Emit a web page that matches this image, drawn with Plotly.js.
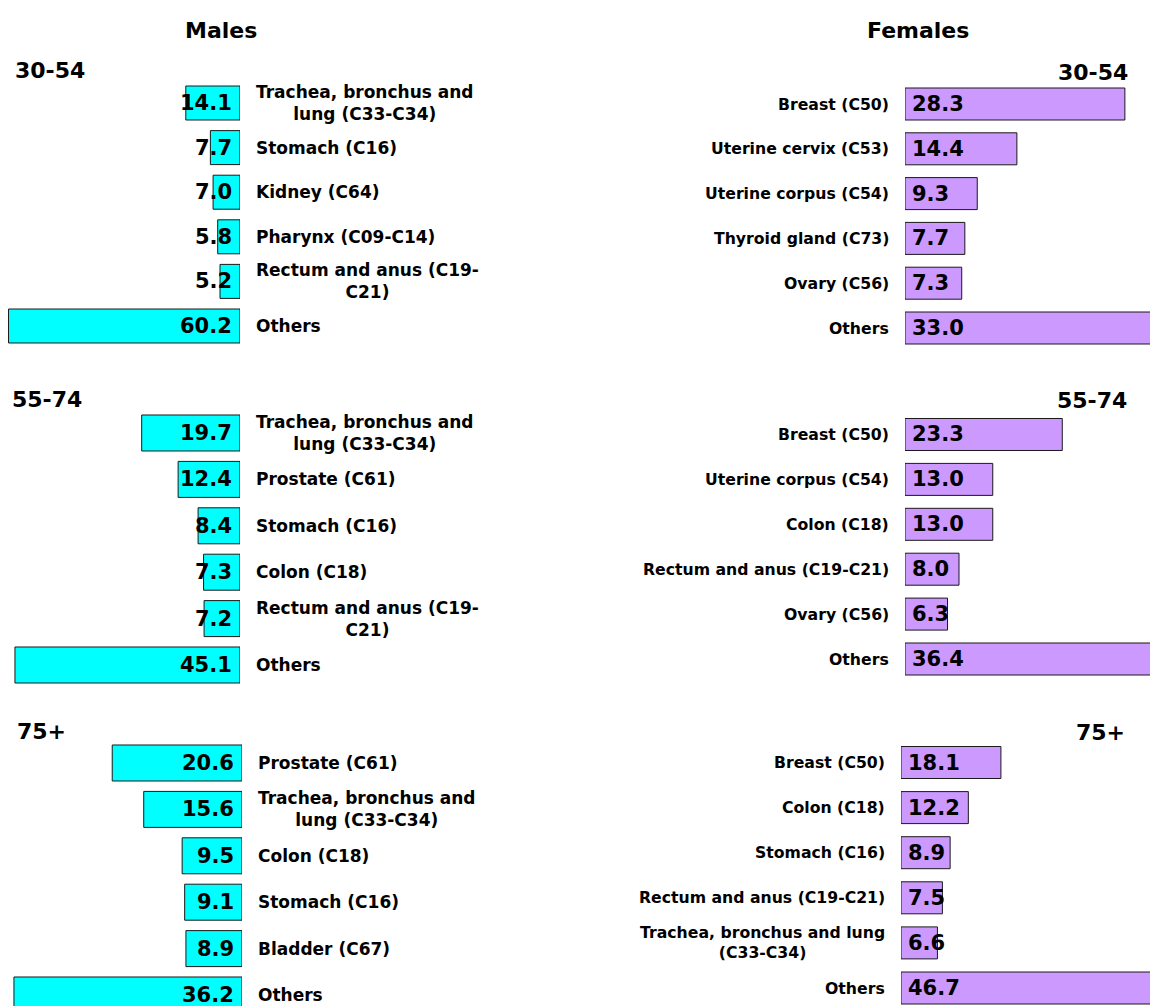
<!DOCTYPE html>
<html><head><meta charset="utf-8">
<script src="https://cdn.plot.ly/plotly-3.0.1.min.js"></script>
<style>html,body{margin:0;padding:0;background:#fff}#chart{width:1150px;height:1006px}</style>
</head><body><div id="chart"></div>
<script>
// ---------- data ----------
const ageGroups = ['30-54', '55-74', '75+'];
const sexTitles = ['Males', 'Females'];

const maleSites3054 = ['Trachea, bronchus and<br>lung (C33-C34)', 'Stomach (C16)', 'Kidney (C64)', 'Pharynx (C09-C14)', 'Rectum and anus (C19-<br>C21)', 'Others'];
const maleValues3054 = [14.1, 7.7, 7.0, 5.8, 5.2, 60.2];

const maleSites5574 = ['Trachea, bronchus and<br>lung (C33-C34)', 'Prostate (C61)', 'Stomach (C16)', 'Colon (C18)', 'Rectum and anus (C19-<br>C21)', 'Others'];
const maleValues5574 = [19.7, 12.4, 8.4, 7.3, 7.2, 45.1];

const maleSites75 = ['Prostate (C61)', 'Trachea, bronchus and<br>lung (C33-C34)', 'Colon (C18)', 'Stomach (C16)', 'Bladder (C67)', 'Others'];
const maleValues75 = [20.6, 15.6, 9.5, 9.1, 8.9, 36.2];

const femaleSites3054 = ['Breast (C50)', 'Uterine cervix (C53)', 'Uterine corpus (C54)', 'Thyroid gland (C73)', 'Ovary (C56)', 'Others'];
const femaleValues3054 = [28.3, 14.4, 9.3, 7.7, 7.3, 33.0];

const femaleSites5574 = ['Breast (C50)', 'Uterine corpus (C54)', 'Colon (C18)', 'Rectum and anus (C19-C21)', 'Ovary (C56)', 'Others'];
const femaleValues5574 = [23.3, 13.0, 13.0, 8.0, 6.3, 36.4];

const femaleSites75 = ['Breast (C50)', 'Colon (C18)', 'Stomach (C16)', 'Rectum and anus (C19-C21)', 'Trachea, bronchus and lung<br>(C33-C34)', 'Others'];
const femaleValues75 = [18.1, 12.2, 8.9, 7.5, 6.6, 46.7];

// ---------- layout geometry (pixels) ----------
const W = 1150, H = 1006;
const FONT = "'DejaVu Sans', Verdana, sans-serif";
const MALE_COLOR = '#00FFFF', FEMALE_COLOR = '#CC99FF';

const panels = [
  {sex: 'M', age: 0, sites: maleSites3054, values: maleValues3054, x0: 0, x1: 240, pxPerUnit: 3.845, c0: 103, sp: 44.6, barH: 34, labelSize: 17},
  {sex: 'F', age: 0, sites: femaleSites3054, values: femaleValues3054, x0: 905, x1: 1150, pxPerUnit: 7.77, c0: 104, sp: 44.8, barH: 32, labelSize: 15.7},
  {sex: 'M', age: 1, sites: maleSites5574, values: maleValues5574, x0: 0, x1: 240, pxPerUnit: 4.99, c0: 433, sp: 46.4, barH: 36, labelSize: 17},
  {sex: 'F', age: 1, sites: femaleSites5574, values: femaleValues5574, x0: 905, x1: 1150, pxPerUnit: 6.75, c0: 434.5, sp: 44.9, barH: 32, labelSize: 15.7},
  {sex: 'M', age: 2, sites: maleSites75, values: maleValues75, x0: 0, x1: 242, pxPerUnit: 6.3, c0: 763, sp: 46.4, barH: 36, labelSize: 17},
  {sex: 'F', age: 2, sites: femaleSites75, values: femaleValues75, x0: 901, x1: 1150, pxPerUnit: 5.52, c0: 762.5, sp: 45.1, barH: 32, labelSize: 15.7}
];

const traces = [];
const annotations = [];
const layout = {
  width: W, height: H,
  margin: {l: 0, r: 0, t: 0, b: 0},
  paper_bgcolor: '#ffffff', plot_bgcolor: 'rgba(0,0,0,0)',
  showlegend: false,
  font: {family: FONT, color: '#000'},
  annotations: annotations
};

panels.forEach((p, i) => {
  const k = i + 1;
  const xa = 'xaxis' + (k === 1 ? '' : k), ya = 'yaxis' + (k === 1 ? '' : k);
  const xr = 'x' + (k === 1 ? '' : k), yr = 'y' + (k === 1 ? '' : k);
  const top = p.c0 - p.sp / 2;
  const bottom = Math.min(p.c0 + (p.sites.length - 0.5) * p.sp, H);
  const spanUnits = (p.x1 - p.x0) / p.pxPerUnit;
  const isM = p.sex === 'M';

  layout[xa] = {
    domain: [p.x0 / W, p.x1 / W],
    range: isM ? [spanUnits, 0] : [0, spanUnits],
    anchor: yr, visible: false, fixedrange: true
  };
  layout[ya] = {
    domain: [1 - bottom / H, 1 - top / H],
    type: 'category',
    categoryorder: 'array', categoryarray: p.sites,
    range: [-0.5 + (bottom - top) / p.sp, -0.5],
    anchor: xr, visible: false, fixedrange: true
  };

  traces.push({
    type: 'bar', orientation: 'h',
    x: p.values, y: p.sites,
    xaxis: xr, yaxis: yr,
    width: p.barH / p.sp,
    marker: {color: isM ? MALE_COLOR : FEMALE_COLOR, line: {color: '#1a1a1a', width: 1}},
    cliponaxis: false,
    hoverinfo: 'skip'
  });

  p.sites.forEach((s, j) => {
    // category label beside the bar
    annotations.push({
      xref: xr, yref: yr, x: 0, y: j,
      xanchor: isM ? 'left' : 'right', yanchor: 'middle',
      xshift: isM ? 14 : -14,
      text: s, align: 'center', showarrow: false,
      font: {family: FONT, size: p.labelSize, weight: 'bold', color: '#000'}
    });
    // value label inside the bar, at its base
    annotations.push({
      xref: xr, yref: yr, x: 0, y: j,
      xanchor: isM ? 'right' : 'left', yanchor: 'middle',
      xshift: isM ? -6 : 5,
      text: p.values[j].toFixed(1), showarrow: false,
      font: {family: FONT, size: 21, weight: 'bold', color: '#000'}
    });
  });
});

// titles
annotations.push({xref: 'paper', yref: 'paper', x: 221 / W, y: 1 - 30 / H, xanchor: 'center', yanchor: 'middle',
  text: sexTitles[0], showarrow: false, font: {family: FONT, size: 22, weight: 'bold', color: '#000'}});
annotations.push({xref: 'paper', yref: 'paper', x: 918 / W, y: 1 - 30 / H, xanchor: 'center', yanchor: 'middle',
  text: sexTitles[1], showarrow: false, font: {family: FONT, size: 22, weight: 'bold', color: '#000'}});

// age-group labels
const ageLabelY = [71, 400, 731];
const ageLabelXM = [13, 10, 15];
const ageLabelXF = [1130, 1129, 1127];
ageGroups.forEach((a, i) => {
  annotations.push({xref: 'paper', yref: 'paper', x: ageLabelXM[i] / W, y: 1 - ageLabelY[i] / H, xanchor: 'left', yanchor: 'middle',
    text: a, showarrow: false, font: {family: FONT, size: 22, weight: 'bold', color: '#000'}});
  annotations.push({xref: 'paper', yref: 'paper', x: ageLabelXF[i] / W, y: 1 - (ageLabelY[i] + 1) / H, xanchor: 'right', yanchor: 'middle',
    text: a, showarrow: false, font: {family: FONT, size: 22, weight: 'bold', color: '#000'}});
});

Plotly.newPlot('chart', traces, layout, {displayModeBar: false, staticPlot: true});
</script>
</body></html>
